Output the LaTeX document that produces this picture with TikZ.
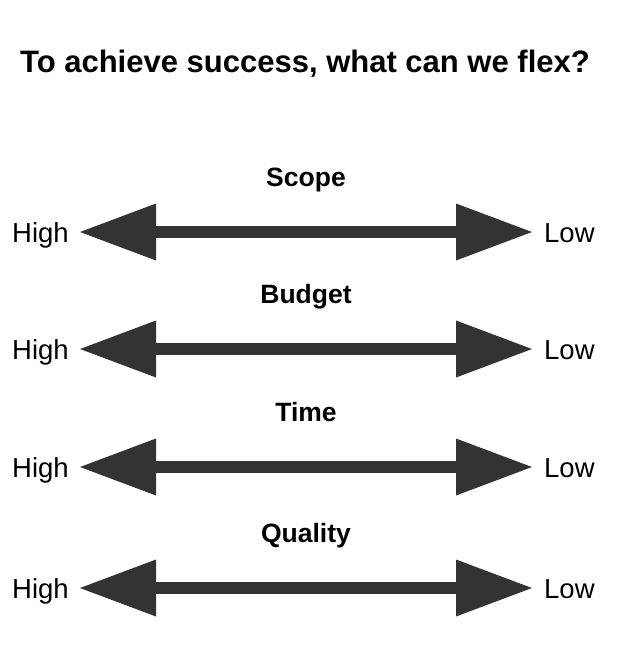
\documentclass[tikz,border=0pt]{standalone}
\usepackage{fontspec}
\setmainfont{Liberation Sans}
\usetikzlibrary{positioning,arrows.meta}
\definecolor{ArrowGrey}{RGB}{51,51,51}

\begin{document}
\begin{tikzpicture}[
    x=1pt,y=-1pt,
    title/.style={font=\fontsize{31}{34}\selectfont\bfseries,anchor=base},
    factor/.style={font=\fontsize{26.5}{30}\selectfont\bfseries,anchor=base},
    high/.style={font=\fontsize{27.5}{30}\selectfont,anchor=base east,inner xsep=11pt,inner ysep=0pt},
    low/.style={font=\fontsize{27.5}{30}\selectfont,anchor=base west,inner xsep=12pt,inner ysep=0pt},
    flex/.style={{Triangle[length=76pt,width=57pt,line width=0pt]}-{Triangle[length=76pt,width=57pt,line width=0pt]},line width=12pt,ArrowGrey}
]
\useasboundingbox (0,0) rectangle (617,657);

% Title
\node[title] (head) at (305,72) {To achieve success, what can we flex?};

% Scope
\node[factor] (scope) at (306,186) {Scope};
\node[high] (h1) at (80,242) {High};
\node[low] (l1) at (532,242) {Low};
\draw[flex] (h1.east |- 0,232) -- (l1.west |- 0,232);

% Budget
\node[factor] (budget) at (306,303) {Budget};
\node[high] (h2) at (80,359) {High};
\node[low] (l2) at (532,359) {Low};
\draw[flex] (h2.east |- 0,349) -- (l2.west |- 0,349);

% Time
\node[factor] (time) at (306,421) {Time};
\node[high] (h3) at (80,477) {High};
\node[low] (l3) at (532,477) {Low};
\draw[flex] (h3.east |- 0,467) -- (l3.west |- 0,467);

% Quality
\node[factor] (quality) at (306,542) {Quality};
\node[high] (h4) at (80,598) {High};
\node[low] (l4) at (532,598) {Low};
\draw[flex] (h4.east |- 0,588) -- (l4.west |- 0,588);
\end{tikzpicture}
\end{document}
